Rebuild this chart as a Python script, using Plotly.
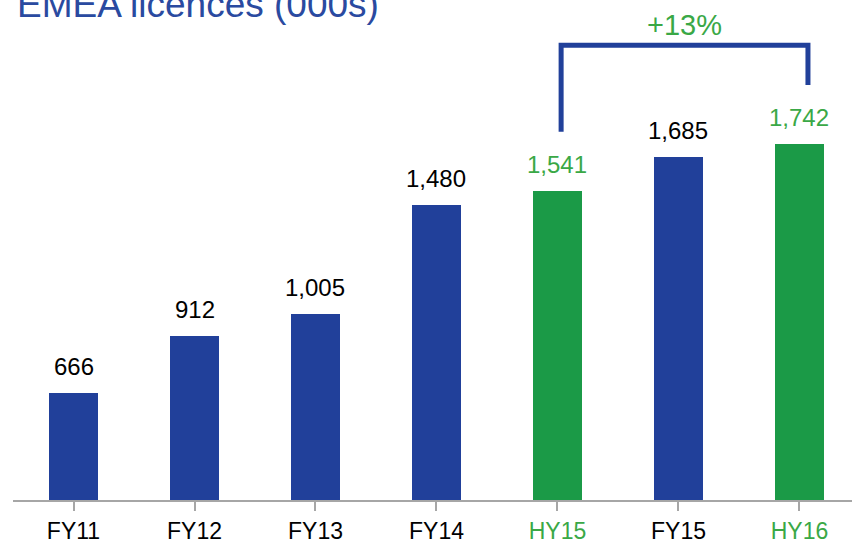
import plotly.graph_objects as go

# EMEA licences (000s)
categories = ["FY11", "FY12", "FY13", "FY14", "HY15", "FY15", "HY16"]
values = [666, 912, 1005, 1480, 1541, 1685, 1742]
is_half_year = [False, False, False, False, True, False, True]
growth_label = "+13%"

BLUE = "#21409a"
GREEN_BAR = "#1b9a47"
GREEN_TXT = "#3aa846"
FONT = "Liberation Sans, Arial, sans-serif"

bar_colors = [GREEN_BAR if h else BLUE for h in is_half_year]
label_colors = [GREEN_TXT if h else "#000000" for h in is_half_year]
tick_text = [f'<span style="color:{c}">{t}</span>' for t, c in zip(categories, label_colors)]

fig = go.Figure(go.Bar(
    x=list(range(len(categories))),
    y=values,
    marker=dict(color=bar_colors, line=dict(width=0)),
    width=0.4,
    hoverinfo="skip",
))

# value labels above bars
for i, (v, c) in enumerate(zip(values, label_colors)):
    fig.add_annotation(x=i, y=v, text=f"{v:,}", showarrow=False,
                       yanchor="bottom", yshift=11,
                       font=dict(size=24, color=c, family=FONT))

# growth bracket HY15 -> HY16
i0, i1 = categories.index("HY15"), categories.index("HY16")
top = 2170
fig.add_shape(type="path",
              path=f"M {i0 + 0.03},{values[i0] + 255} L {i0 + 0.03},{top} L {i1 + 0.07},{top} L {i1 + 0.07},{values[i1] + 256}",
              line=dict(color=BLUE, width=5))
fig.add_annotation(x=(i0 + i1) / 2 + 0.05, y=top, text=growth_label, showarrow=False,
                   yanchor="bottom", yshift=2,
                   font=dict(size=29, color=GREEN_TXT, family=FONT))

fig.add_annotation(xref="paper", yref="paper", x=0.0, y=1, xanchor="left", yanchor="top",
                   xshift=2, yshift=18, text="EMEA licences (000s)", showarrow=False,
                   font=dict(size=37, color="#2a4aa0", family=FONT))

fig.update_layout(
    width=852, height=544,
    margin=dict(l=13, r=0, t=0, b=42),
    plot_bgcolor="white", paper_bgcolor="white",
    showlegend=False,
    bargap=0,
    xaxis=dict(range=[-0.5, 6.434], tickvals=list(range(len(categories))), ticktext=tick_text,
               showline=True, linecolor="#a6a6a6", linewidth=2, ticks="outside", tickson="boundaries",
               ticklen=9, tickcolor="#a6a6a6", tickwidth=2, showgrid=False, zeroline=False,
               tickfont=dict(size=23, color="#000000", family=FONT)),
    yaxis=dict(range=[202, 2366], visible=False, showgrid=False, zeroline=False),
)

fig.write_html("out.html", config={"displayModeBar": False},
               post_script="document.body.style.margin='0';")
